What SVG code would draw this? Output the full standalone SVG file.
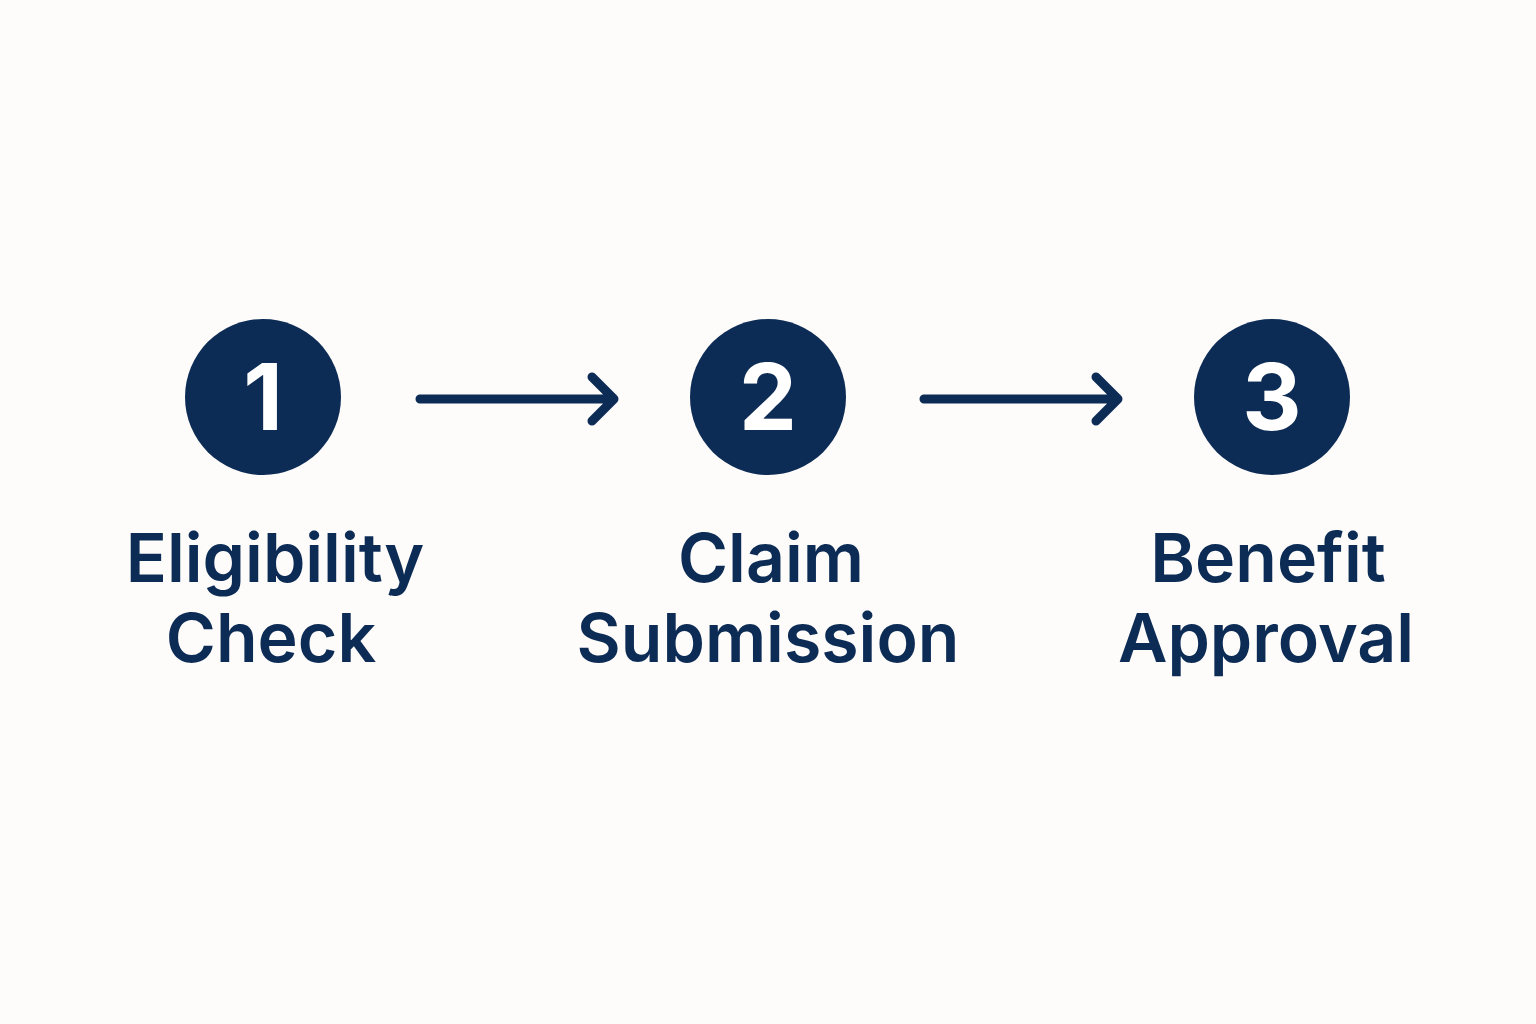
<svg xmlns="http://www.w3.org/2000/svg" width="1536" height="1024" viewBox="0 0 1536 1024">
<style>
.c{fill:#0c2b55}
.n{fill:#fff;font-family:Inter,"Liberation Sans",sans-serif;font-weight:700;font-size:92px;text-anchor:middle}
.t{fill:#0c2b55;font-family:Inter,"Liberation Sans",sans-serif;font-weight:600;font-size:68px;text-anchor:middle}
.a{stroke:#0c2b55;stroke-width:9;stroke-linecap:round;stroke-linejoin:round;fill:none}
</style>
<rect width="1536" height="1024" fill="#fdfcfa"/>
<g id="connectors">
<path class="a" d="M420 399H614M592 377L614 399L592 421"/>
<path class="a" d="M924 399H1118M1096 377L1118 399L1096 421"/>
</g>
<g id="step1"><circle class="c" cx="263" cy="397" r="78"/><text class="n" x="263" y="430">1</text>
<text class="t" x="275" y="582">Eligibility</text><text class="t" x="271" y="662">Check</text></g>
<g id="step2"><circle class="c" cx="768" cy="397" r="78"/><text class="n" x="768" y="430">2</text>
<text class="t" x="771" y="582">Claim</text><text class="t" x="768" y="662">Submission</text></g>
<g id="step3"><circle class="c" cx="1272" cy="397" r="78"/><text class="n" x="1272" y="430">3</text>
<text class="t" x="1268" y="582">Benefit</text><text class="t" x="1266" y="662">Approval</text></g>
</svg>
